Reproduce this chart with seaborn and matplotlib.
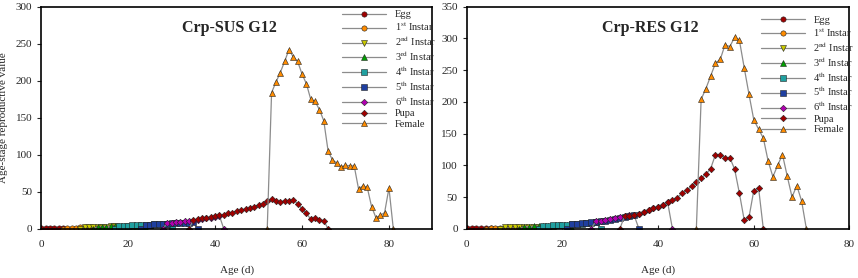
"""Age-stage reproductive value of Crp-SUS and Crp-RES (G12)."""
import numpy as np
import seaborn as sns
import matplotlib.pyplot as plt

sns.set_style("ticks")
plt.rcParams['font.family'] = ['Liberation Serif', 'DejaVu Serif']
plt.rcParams['mathtext.fontset'] = 'stix'

stage_labels = ['Egg', r'1$^{\rm st}$ Instar', r'2$^{\rm nd}$ Instar', r'3$^{\rm rd}$ Instar',
                r'4$^{\rm th}$ Instar', r'5$^{\rm th}$ Instar', r'6$^{\rm th}$ Instar',
                'Pupa', 'Female']
stage_markers = ['o', 'o', 'v', '^', 's', 's', 'D', 'D', '^']
stage_colors = ['#A00000', '#FF8C00', '#C8C800', '#00A000', '#20A0A0', '#1F3F9F',
                '#B000B0', '#A00000', '#FF8C00']

# first day of each stage, then its daily values
sus_start = [0, 5, 9, 12, 17, 23, 28, 34, 52]
sus_egg = [1, 1, 1, 1, 1, 1, 0]
sus_i1 = [0, 1.2, 1.4, 1.6, 1.8, 2.0, 2.2, 2.4, 0]
sus_i2 = [0, 2.0, 2.2, 2.4, 2.6, 2.8, 3.0, 3.2, 3.4, 0]
sus_i3 = [0, 2.6, 2.8, 3.0, 3.2, 3.4, 3.6, 3.8, 4.0, 4.2, 4.4, 4.6, 0]
sus_i4 = [0, 3.6, 3.9, 4.2, 4.5, 4.8, 5.1, 5.4, 5.7, 6.0, 6.3, 6.6, 6.9, 0]
sus_i5 = [0, 5.4, 5.7, 6.0, 6.3, 6.6, 6.9, 7.2, 7.5, 7.8, 8.1, 8.4, 8.7, 0]
sus_i6 = [0, 8, 8.5, 9, 9.5, 10, 10.5, 11, 12, 13, 14, 15, 16, 17.5, 0]
sus_pupa = [0, 12, 13, 14, 15, 16, 17, 18, 19, 21, 22, 24, 25, 27, 28, 30, 32, 34, 37,
            40, 38, 36, 38, 38, 39, 34, 27, 21, 13, 15, 12, 11, 0]
sus_female = [0, 184, 198, 211, 226, 242, 232, 226, 209, 196, 175, 172, 161, 146, 105,
              93, 89, 83, 86, 85, 85, 54, 58, 56, 30, 15, 18, 22, 55, 0]

res_start = [0, 4, 7, 11, 15, 21, 26, 32, 48]
res_egg = [1, 1, 1, 1, 1, 1, 0]
res_i1 = [0, 1.3, 1.5, 1.7, 1.9, 2.1, 2.3, 2.5, 0]
res_i2 = [0, 2.2, 2.4, 2.6, 2.8, 3.0, 3.2, 3.4, 3.6, 0]
res_i3 = [0, 3.2, 3.5, 3.8, 4.1, 4.4, 4.7, 5.0, 5.3, 5.6, 6.0, 0]
res_i4 = [0, 4.5, 5.0, 5.4, 5.8, 6.2, 6.7, 7.2, 7.7, 8.2, 8.8, 9.4, 10, 0]
res_i5 = [0, 7.5, 8, 8.6, 9.3, 10, 11, 12, 13, 14, 15, 16.5, 18, 19.5, 21, 0]
res_i6 = [0, 12, 13, 14, 15, 16.5, 18, 20, 21, 22, 24, 26.5, 29.5, 32, 35, 38, 41.5, 0]
res_pupa = [0, 20, 20, 22, 24, 27, 30, 32, 35, 38, 42, 45, 49, 56, 61, 67, 74, 80, 86,
            95, 117, 117, 112, 112, 94, 56, 14, 18, 60, 65, 0]
res_female = [0, 204, 221, 241, 261, 267, 290, 287, 302, 297, 254, 212, 172, 157, 143,
              107, 82, 100, 117, 83, 50, 68, 44, 0]

panels = [
    ('Crp-SUS G12', sus_start,
     [sus_egg, sus_i1, sus_i2, sus_i3, sus_i4, sus_i5, sus_i6, sus_pupa, sus_female],
     90, 300, [0.048, 0.177, 0.456, 0.799], 0.985),
    ('Crp-RES G12', res_start,
     [res_egg, res_i1, res_i2, res_i3, res_i4, res_i5, res_i6, res_pupa, res_female],
     80, 350, [0.544, 0.177, 0.446, 0.799], 0.96),
]

fig = plt.figure(figsize=(8.58, 2.78), dpi=100)

for title, starts, series, xmax, ymax, rect, leg_y in panels:
    ax = fig.add_axes(rect)
    for lab, mk, col, s, vals in zip(stage_labels, stage_markers, stage_colors, starts, series):
        days = np.arange(s, s + len(vals))
        sns.lineplot(x=days, y=vals, ax=ax, color='#8c8c8c', linewidth=0.9,
                     marker=mk, markersize=3.8 if mk != 'D' else 3.3,
                     markerfacecolor=col, markeredgecolor='#222222',
                     markeredgewidth=0.4, label=lab, legend=False)

    ax.set_xlim(0, xmax)
    ax.set_ylim(0, ymax)
    ax.set_xticks([0, 20, 40, 60, 80])
    ax.set_yticks(np.arange(0, ymax + 1, 50))
    ax.tick_params(axis='x', direction='in', length=3, labelsize=8, pad=8)
    ax.tick_params(axis='y', direction='out', length=3, labelsize=8)
    for sp in ax.spines.values():
        sp.set_visible(True)
        sp.set_linewidth(1.2)
        sp.set_color('black')

    ax.set_xlabel('Age (d)', fontsize=8, labelpad=12)
    if ymax == 300:
        ax.set_ylabel('Age-stage reproductive value', fontsize=8)
        ax.yaxis.set_label_coords(-0.084, 0.5)
    ax.text(0.48, 0.905, title, transform=ax.transAxes, ha='center', va='center',
            fontsize=11.5, fontweight='bold')

    ax.legend(loc='upper left', bbox_to_anchor=(0.77, leg_y), frameon=False,
              fontsize=7.5, handlelength=4.2, labelspacing=0.12, borderpad=0,
              borderaxespad=0, handletextpad=0.8)

fig.savefig('out.png', dpi=100)
